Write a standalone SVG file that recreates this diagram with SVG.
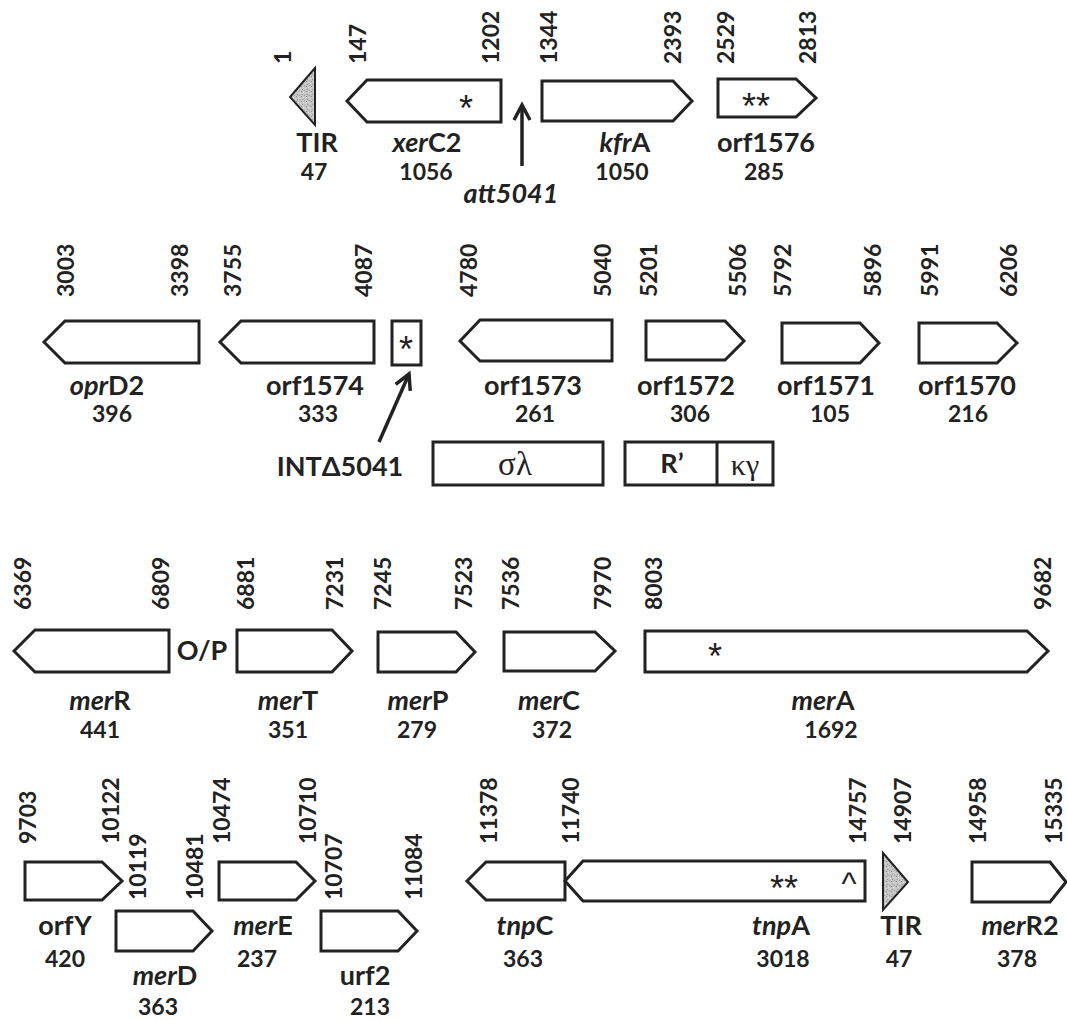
<svg xmlns="http://www.w3.org/2000/svg" width="1067" height="1020" viewBox="0 0 1067 1020">
<style>
.n{font-family:Lato,"Liberation Sans",sans-serif;font-weight:700;font-size:23px;fill:#222;dominant-baseline:central}
.g{font-family:Lato,"Liberation Sans",sans-serif;font-weight:700;font-size:27px;fill:#222;text-anchor:middle}
.l{font-family:Lato,"Liberation Sans",sans-serif;font-weight:700;font-size:23px;fill:#222;text-anchor:middle}
.i{font-style:italic}
.s{fill:#fff;stroke:#222;stroke-width:3;stroke-linejoin:miter}
.t{fill:url(#grain);stroke:#222;stroke-width:2}
.a{font-family:"Liberation Sans",sans-serif;font-weight:400;font-size:36px;fill:#222;text-anchor:middle}
.gr{font-family:"Liberation Serif",serif;font-size:33px;fill:#222;text-anchor:middle}
.c{fill:none;stroke:#222;stroke-width:3.5}
</style>
<defs>
<pattern id="grain" width="5" height="5" patternUnits="userSpaceOnUse">
<rect width="5" height="5" fill="#c4c4c4"/>
<rect x="1" y="1" width="1" height="1" fill="#8e8e8e"/>
<rect x="3" y="2" width="1" height="1" fill="#e2e2e2"/>
<rect x="2" y="4" width="1" height="1" fill="#9c9c9c"/>
<rect x="4" y="0" width="1" height="1" fill="#a6a6a6"/>
<rect x="0" y="3" width="1" height="1" fill="#dadada"/>
</pattern>
<marker id="head" markerUnits="userSpaceOnUse" markerWidth="24" markerHeight="24" viewBox="-20 -12 24 24" refX="0" refY="0" orient="auto">
<path d="M-15,-8 L0,0 L-15,8" fill="none" stroke="#222" stroke-width="3.5"/>
</marker>
</defs>

<!-- Row 1 -->
<g id="tir1">
<polygon class="t" points="315,68 290,97 315,125"/>
<text class="n" transform="translate(282,64) rotate(-90)">1</text>
<text class="g" x="317" y="152">TIR</text>
<text class="l" x="314" y="180">47</text>
</g>
<g id="xerC2">
<polygon class="s" points="347,101 367,80 501,80 501,122 367,122"/>
<text class="a" x="466" y="121">*</text>
<text class="n" transform="translate(357,64) rotate(-90)">147</text>
<text class="n" transform="translate(490,64) rotate(-90)">1202</text>
<text class="g" x="427" y="152"><tspan class="i">xer</tspan>C2</text>
<text class="l" x="426" y="180">1056</text>
</g>
<g id="kfrA">
<polygon class="s" points="542,81 673,81 692,101 673,121 542,121"/>
<text class="n" transform="translate(548,64) rotate(-90)">1344</text>
<text class="n" transform="translate(672,64) rotate(-90)">2393</text>
<text class="g" x="625" y="152"><tspan class="i">kfr</tspan>A</text>
<text class="l" x="622" y="180">1050</text>
</g>
<g id="orf1576">
<polygon class="s" points="718,79 796,79 816,98 796,117 718,117"/>
<text class="a" x="756" y="119">**</text>
<text class="n" transform="translate(725,64) rotate(-90)">2529</text>
<text class="n" transform="translate(807,64) rotate(-90)">2813</text>
<text class="g" x="766" y="152">orf1576</text>
<text class="l" x="764" y="180">285</text>
</g>
<g id="att5041">
<text class="g i" x="511" y="203">att5041</text>
</g>

<!-- Row 2 -->
<g id="oprD2">
<polygon class="s" points="44,342 65,321 199,321 199,363 65,363"/>
<text class="n" transform="translate(65,297) rotate(-90)">3003</text>
<text class="n" transform="translate(179,297) rotate(-90)">3398</text>
<text class="g" x="107" y="395"><tspan class="i">opr</tspan>D2</text>
<text class="l" x="112" y="422">396</text>
</g>
<g id="orf1574">
<polygon class="s" points="220,342 241,321 374,321 374,363 241,363"/>
<text class="n" transform="translate(232,297) rotate(-90)">3755</text>
<text class="n" transform="translate(363,297) rotate(-90)">4087</text>
<text class="g" x="315" y="395">orf1574</text>
<text class="l" x="318" y="422">333</text>
</g>
<g id="int5041">
<rect class="s" x="392" y="321" width="29" height="44"/>
<text class="a" x="406" y="362">*</text>
<text class="g" x="340" y="476">INTΔ5041</text>
</g>
<g id="orf1573">
<polygon class="s" points="460,341 480,320 612,320 612,361 480,361"/>
<text class="n" transform="translate(468,297) rotate(-90)">4780</text>
<text class="n" transform="translate(602,297) rotate(-90)">5040</text>
<text class="g" x="533" y="395">orf1573</text>
<text class="l" x="535" y="422">261</text>
</g>
<g id="orf1572">
<polygon class="s" points="646,321 725,321 744,341 725,360 646,360"/>
<text class="n" transform="translate(648,297) rotate(-90)">5201</text>
<text class="n" transform="translate(737,297) rotate(-90)">5506</text>
<text class="g" x="686" y="395">orf1572</text>
<text class="l" x="690" y="422">306</text>
</g>
<g id="orf1571">
<polygon class="s" points="782,323 860,323 879,343 860,363 782,363"/>
<text class="n" transform="translate(782,297) rotate(-90)">5792</text>
<text class="n" transform="translate(872,297) rotate(-90)">5896</text>
<text class="g" x="826" y="395">orf1571</text>
<text class="l" x="830" y="422">105</text>
</g>
<g id="orf1570">
<polygon class="s" points="919,323 997,323 1017,343 997,363 919,363"/>
<text class="n" transform="translate(929,297) rotate(-90)">5991</text>
<text class="n" transform="translate(1008,297) rotate(-90)">6206</text>
<text class="g" x="967" y="395">orf1570</text>
<text class="l" x="968" y="422">216</text>
</g>
<g id="sigma-lambda">
<rect class="s" x="433" y="442" width="170" height="43"/>
<text class="gr" x="515" y="475">σλ</text>
</g>
<g id="r-kappa-gamma">
<rect class="s" x="625" y="442" width="148" height="43"/>
<line class="s" x1="717" y1="442" x2="717" y2="485"/>
<text class="g" x="672" y="473">R’</text>
<text class="gr" x="745" y="475" style="font-size:30px">κγ</text>
</g>

<!-- Row 3 -->
<g id="merR">
<polygon class="s" points="14,651 35,630 169,630 169,672 35,672"/>
<text class="n" transform="translate(22,610) rotate(-90)">6369</text>
<text class="n" transform="translate(160,610) rotate(-90)">6809</text>
<text class="g" x="100" y="710"><tspan class="i">mer</tspan>R</text>
<text class="l" x="100" y="738">441</text>
</g>
<g id="op">
<text class="g" x="202" y="660">O/P</text>
</g>
<g id="merT">
<polygon class="s" points="237,630 332,630 352,651 332,672 237,672"/>
<text class="n" transform="translate(245,610) rotate(-90)">6881</text>
<text class="n" transform="translate(334,610) rotate(-90)">7231</text>
<text class="g" x="288" y="710"><tspan class="i">mer</tspan>T</text>
<text class="l" x="288" y="738">351</text>
</g>
<g id="merP">
<polygon class="s" points="378,632 456,632 475,652 456,672 378,672"/>
<text class="n" transform="translate(382,610) rotate(-90)">7245</text>
<text class="n" transform="translate(463,610) rotate(-90)">7523</text>
<text class="g" x="418" y="710"><tspan class="i">mer</tspan>P</text>
<text class="l" x="417" y="738">279</text>
</g>
<g id="merC">
<polygon class="s" points="504,632 595,632 615,651 595,671 504,671"/>
<text class="n" transform="translate(510,610) rotate(-90)">7536</text>
<text class="n" transform="translate(602,610) rotate(-90)">7970</text>
<text class="g" x="549" y="710"><tspan class="i">mer</tspan>C</text>
<text class="l" x="552" y="738">372</text>
</g>
<g id="merA">
<polygon class="s" points="645,631 1027,631 1048,651 1027,672 645,672"/>
<text class="a" x="715" y="669">*</text>
<text class="n" transform="translate(653,610) rotate(-90)">8003</text>
<text class="n" transform="translate(1042,610) rotate(-90)">9682</text>
<text class="g" x="823" y="710"><tspan class="i">mer</tspan>A</text>
<text class="l" x="831" y="738">1692</text>
</g>

<!-- Row 4 -->
<g id="orfY">
<polygon class="s" points="25,862 102,862 122,881 102,900 25,900"/>
<text class="n" transform="translate(27,844) rotate(-90)">9703</text>
<text class="n" transform="translate(110,844) rotate(-90)">10122</text>
<text class="g" x="65" y="935">orfY</text>
<text class="l" x="65" y="967">420</text>
</g>
<g id="merD">
<polygon class="s" points="116,911 193,911 212,931 193,951 116,951"/>
<text class="n" transform="translate(137,900) rotate(-90)">10119</text>
<text class="n" transform="translate(194,900) rotate(-90)">10481</text>
<text class="g" x="165" y="985"><tspan class="i">mer</tspan>D</text>
<text class="l" x="158" y="1015">363</text>
</g>
<g id="merE">
<polygon class="s" points="219,862 296,862 315,881 296,900 219,900"/>
<text class="n" transform="translate(221,844) rotate(-90)">10474</text>
<text class="n" transform="translate(307,844) rotate(-90)">10710</text>
<text class="g" x="263" y="935"><tspan class="i">mer</tspan>E</text>
<text class="l" x="257" y="967">237</text>
</g>
<g id="urf2">
<polygon class="s" points="321,911 398,911 417,931 398,951 321,951"/>
<text class="n" transform="translate(333,900) rotate(-90)">10707</text>
<text class="n" transform="translate(413,900) rotate(-90)">11084</text>
<text class="g" x="365" y="985">urf2</text>
<text class="l" x="370" y="1015">213</text>
</g>
<g id="tnpC">
<polygon class="s" points="467,881 486,862 565,862 565,900 486,900"/>
<text class="n" transform="translate(488,844) rotate(-90)">11378</text>
<text class="n" transform="translate(570,844) rotate(-90)">11740</text>
<text class="g" x="525" y="935"><tspan class="i">tnp</tspan>C</text>
<text class="l" x="523" y="967">363</text>
</g>
<g id="tnpA">
<polygon class="s" points="565,881 583,861 865,861 865,901 583,901"/>
<text class="a" x="784" y="901">**</text>
<text class="a" x="849" y="894" style="font-size:32px">^</text>
<text class="n" transform="translate(857,844) rotate(-90)">14757</text>
<text class="g" x="781" y="935"><tspan class="i">tnp</tspan>A</text>
<text class="l" x="783" y="967">3018</text>
</g>
<g id="tir2">
<polygon class="t" points="883,853 908,882 883,910"/>
<text class="n" transform="translate(902,844) rotate(-90)">14907</text>
<text class="g" x="901" y="935">TIR</text>
<text class="l" x="899" y="967">47</text>
</g>
<g id="merR2">
<polygon class="s" points="972,862 1050,862 1066,882 1050,902 972,902"/>
<text class="n" transform="translate(977,844) rotate(-90)">14958</text>
<text class="n" transform="translate(1053,844) rotate(-90)">15335</text>
<text class="g" x="1020" y="935"><tspan class="i">mer</tspan>R2</text>
<text class="l" x="1017" y="967">378</text>
</g>

<g id="connectors">
<line class="c" x1="522" y1="166" x2="522" y2="105" marker-end="url(#head)"/>
<line class="c" x1="379" y1="442" x2="409" y2="374" marker-end="url(#head)"/>
</g>
</svg>
